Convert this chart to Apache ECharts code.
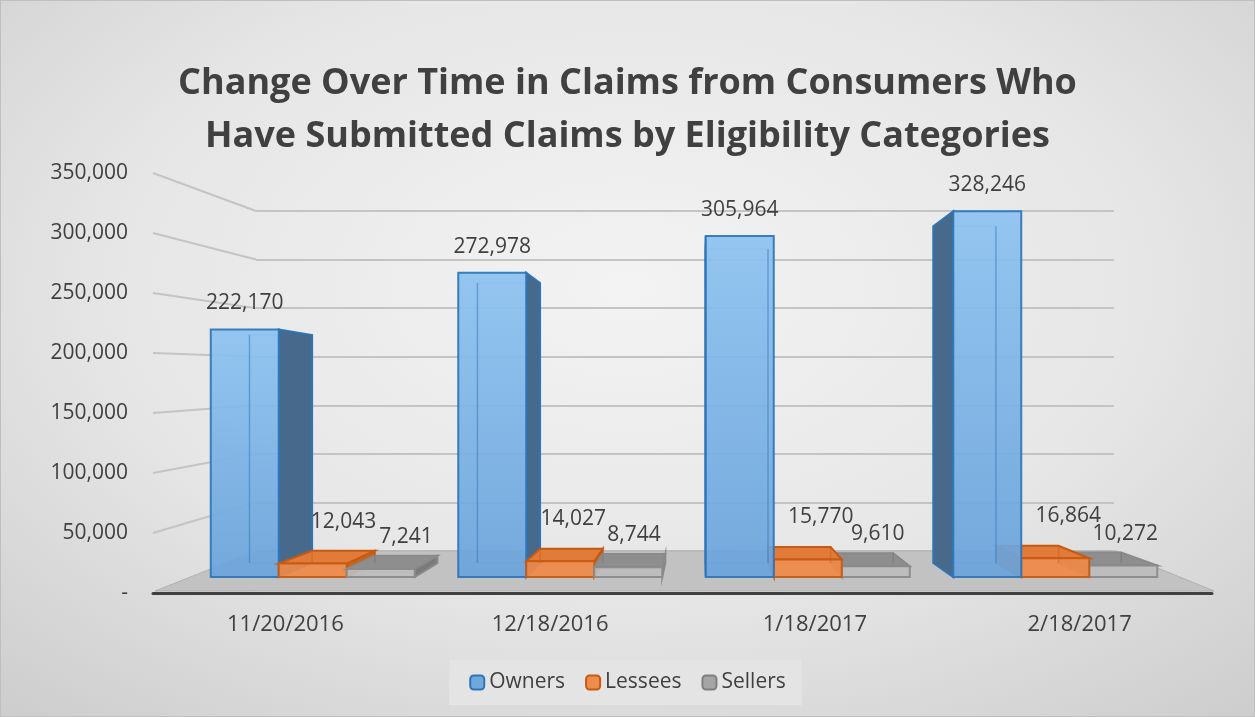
<!DOCTYPE html>
<html>
<head>
<meta charset="utf-8">
<script src="https://cdn.jsdelivr.net/npm/echarts@6/dist/echarts.min.js"></script>
<style>
  html, body { margin: 0; padding: 0; background: #fff; }
  #chart {
    width: 1255px; height: 717px; box-sizing: border-box;
    border: 1px solid #bfbfbf;
    background: radial-gradient(ellipse 75% 80% at 50% 40%, #f3f3f3 0%, #e6e6e6 55%, #cdcdcd 100%);
  }
</style>
</head>
<body>
<div id="chart"></div>
<script>
// data
const dates = ['11/20/2016', '12/18/2016', '1/18/2017', '2/18/2017']
const owners = [222170, 272978, 305964, 328246]
const lessees = [12043, 14027, 15770, 16864]
const sellers = [7241, 8744, 9610, 10272]
const yTicks = [0, 50000, 100000, 150000, 200000, 250000, 300000, 350000]

const textColor = '#404040'
const fmt = v => (v === 0 ? '-' : v.toLocaleString('en-US'))

// fake 3d: every box is pushed back toward a vanishing point
const VX = 700
const VY = 400
const DEPTH = 0.079
const BAR_W = 68

const styles = [
  {
    front: new echarts.graphic.LinearGradient(0, 0, 0, 1, [
      { offset: 0, color: '#8cc2f0' },
      { offset: 1, color: '#6aa3dc' },
    ]),
    top: '#7fb3e3', side: '#46698c', border: '#2e75b6', inner: 'rgba(46,117,182,0.45)',
    labelDx: 0, labelDy: 26,
  },
  { front: '#f08a48', top: '#e27a3a', side: '#c8621f', border: '#c55a11', inner: 'rgba(197,90,17,0.4)', labelDx: 13, labelDy: 42 },
  { front: '#bdbdbd', top: '#8e8e8e', side: '#7a7a7a', border: '#8a8a8a', inner: 'rgba(110,110,110,0.4)', labelDx: 2, labelDy: 32 },
]

const boxRenderer = idx => (params, api) => {
  const s = styles[idx]
  const cat = api.value(0)
  const val = api.value(1)
  const base = api.coord([cat, 0])
  const top = api.coord([cat, val])
  const cx = base[0] + (idx - 1) * BAR_W
  const x0 = cx - BAR_W / 2
  const x1 = cx + BAR_W / 2
  const yT = top[1]
  const yB = base[1]
  const back = (x, y) => [x + DEPTH * (VX - x), y + DEPTH * (VY - y)]
  const z = Math.round(1000 - Math.abs(cx - VX)) * 10
  const kids = []

  // back edges seen through the box
  const b0 = back(x0, yT)
  const b1 = back(x1, yB)
  kids.push({
    type: 'rect', z2: z, silent: true,
    shape: { x: b0[0], y: b0[1], width: b1[0] - b0[0], height: b1[1] - b0[1] },
    style: { fill: null, stroke: s.inner, lineWidth: 1.5 },
  })
  // side face
  let ex = null
  if (VX > x1) ex = x1
  else if (VX < x0) ex = x0
  if (ex !== null) {
    kids.push({
      type: 'polygon', z2: z + 1,
      shape: { points: [[ex, yT], back(ex, yT), back(ex, yB), [ex, yB]] },
      style: { fill: s.side, stroke: s.border, lineWidth: 2 },
    })
  }
  // top face, only seen when the top is under eye level
  if (yT > VY) {
    kids.push({
      type: 'polygon', z2: z + 2,
      shape: { points: [[x0, yT], [x1, yT], back(x1, yT), back(x0, yT)] },
      style: { fill: s.top, stroke: s.border, lineWidth: 2 },
    })
  }
  // front face
  kids.push({
    type: 'rect', z2: z + 3,
    shape: { x: x0, y: yT, width: x1 - x0, height: yB - yT },
    style: { fill: s.front, stroke: s.border, lineWidth: 2, opacity: 0.92 },
  })
  // inner edge lines on the front (transparent look)
  if (b0[0] > x0 && b0[0] < x1) {
    kids.push({
      type: 'line', z2: z + 4, silent: true,
      shape: { x1: b0[0], y1: b0[1], x2: b0[0], y2: b1[1] },
      style: { stroke: s.inner, lineWidth: 1.5 },
    })
  }
  if (b1[0] > x0 && b1[0] < x1) {
    kids.push({
      type: 'line', z2: z + 4, silent: true,
      shape: { x1: b1[0], y1: b0[1], x2: b1[0], y2: b1[1] },
      style: { stroke: s.inner, lineWidth: 1.5 },
    })
  }
  // value label (small boxes: keep clear of the neighbour's side face)
  let lx = cx + s.labelDx
  if (idx > 0) lx = Math.max(lx, cx + DEPTH * (VX - cx))
  kids.push({
    type: 'text', z2: 100000,
    style: {
      text: fmt(val),
      x: lx,
      y: yT - s.labelDy,
      align: 'center',
      verticalAlign: 'middle',
      fill: textColor,
      fontSize: 21,
      fontFamily: 'Open Sans',
    },
  })
  return { type: 'group', children: kids }
}

const chart = echarts.init(document.getElementById('chart'), null, { renderer: 'canvas' })

const option = {
  animation: false,
  textStyle: { fontFamily: 'Open Sans' },
  title: {
    text: 'Change Over Time in Claims from Consumers Who\nHave Submitted Claims by Eligibility Categories',
    left: 'center',
    top: 51,
    textStyle: {
      fontFamily: 'Open Sans',
      fontWeight: 'bold',
      fontSize: 36,
      lineHeight: 53,
      color: '#404040',
    },
  },
  legend: {
    bottom: 11,
    left: 'center',
    itemWidth: 14,
    itemHeight: 14,
    itemGap: 20,
    padding: [12, 16, 12, 20],
    backgroundColor: '#e4e4e4',
    textStyle: { color: textColor, fontSize: 21, fontFamily: 'Open Sans' },
    data: [
      { name: 'Owners', itemStyle: { color: '#6fa8dc', borderColor: '#2e75b6', borderWidth: 2 } },
      { name: 'Lessees', itemStyle: { color: '#f08c4a', borderColor: '#c55a11', borderWidth: 2 } },
      { name: 'Sellers', itemStyle: { color: '#a5a5a5', borderColor: '#7f7f7f', borderWidth: 2 } },
    ],
  },
  grid: [
    // axis labels + front axis line
    { left: 152, right: 42, top: 172, bottom: 123 },
    // back wall grid lines
    { left: 255, right: 140, top: 210, bottom: 165 },
    // bars
    { left: 188, right: 75, top: 186, bottom: 139 },
  ],
  xAxis: [
    {
      gridIndex: 0,
      type: 'category',
      data: dates,
      axisLine: { lineStyle: { color: '#404040', width: 3 } },
      axisTick: { length: 6, lineStyle: { color: '#404040', width: 3 } },
      axisLabel: { color: textColor, fontSize: 22, margin: 21 },
    },
    { gridIndex: 1, type: 'category', data: dates, show: false },
    { gridIndex: 2, type: 'category', data: dates, show: false },
  ],
  yAxis: [
    {
      gridIndex: 0,
      type: 'value',
      min: 0,
      max: 350000,
      interval: 50000,
      axisLine: { show: false },
      axisTick: { show: false },
      splitLine: { show: false },
      axisLabel: { color: textColor, fontSize: 21, margin: 25, formatter: fmt },
    },
    {
      gridIndex: 1,
      type: 'value',
      min: 0,
      max: 350000,
      interval: 50000,
      axisLine: { show: false },
      axisTick: { show: false },
      axisLabel: { show: false },
      splitLine: { lineStyle: { color: '#c4c4c4', width: 2 } },
    },
    { gridIndex: 2, type: 'value', min: 0, max: 350000, show: false, splitLine: { show: false } },
  ],
  series: [
    {
      name: 'Owners', type: 'custom', xAxisIndex: 2, yAxisIndex: 2,
      renderItem: boxRenderer(0), itemStyle: { color: '#6fa8dc' },
      encode: { x: 0, y: 1 },
      data: owners.map((v, i) => [i, v]),
    },
    {
      name: 'Lessees', type: 'custom', xAxisIndex: 2, yAxisIndex: 2,
      renderItem: boxRenderer(1), itemStyle: { color: '#f08c4a' },
      encode: { x: 0, y: 1 },
      data: lessees.map((v, i) => [i, v]),
    },
    {
      name: 'Sellers', type: 'custom', xAxisIndex: 2, yAxisIndex: 2,
      renderItem: boxRenderer(2), itemStyle: { color: '#a5a5a5' },
      encode: { x: 0, y: 1 },
      data: sellers.map((v, i) => [i, v]),
    },
  ],
}

chart.setOption(option)

// floor + connector lines from the front labels to the back wall
const deco = []
yTicks.forEach(t => {
  if (t === 0) return
  const front = chart.convertToPixel({ gridIndex: 0 }, [0, t])
  const back = chart.convertToPixel({ gridIndex: 1 }, [0, t])
  deco.push({
    type: 'line',
    z: 0,
    shape: { x1: 152, y1: front[1], x2: 255, y2: back[1] },
    style: { stroke: '#c4c4c4', lineWidth: 2 },
  })
})
const f0 = chart.convertToPixel({ gridIndex: 0 }, [0, 0])[1]
const b0 = chart.convertToPixel({ gridIndex: 1 }, [0, 0])[1]
deco.push({
  type: 'polygon',
  z: 0,
  shape: { points: [[154, f0 - 2], [1213, f0 - 2], [1115, b0], [255, b0]] },
  style: { fill: '#c2c2c2', stroke: '#b0b0b0', lineWidth: 1 },
})
chart.setOption({ graphic: deco })
</script>
</body>
</html>
